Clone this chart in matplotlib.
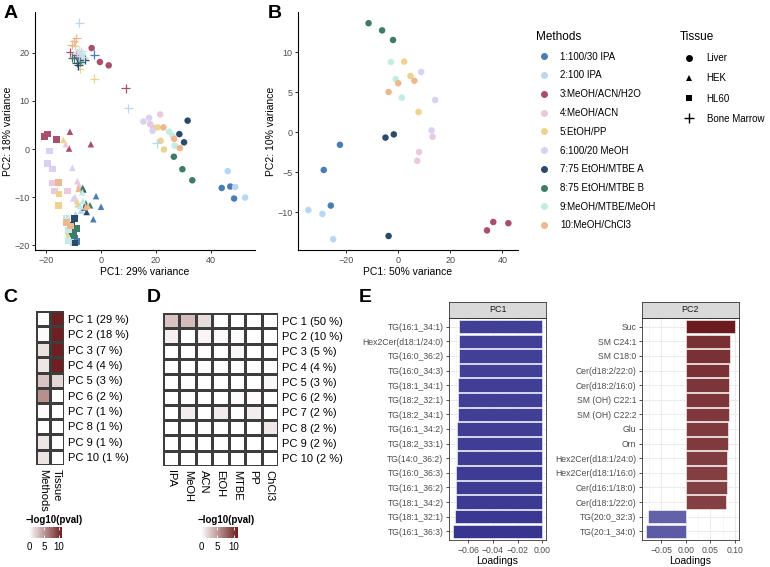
import numpy as np
import matplotlib
matplotlib.use("Agg")
import matplotlib.pyplot as plt
from matplotlib.colors import LinearSegmentedColormap, TwoSlopeNorm
from matplotlib.lines import Line2D

plt.rcParams['font.family'] = ['Liberation Sans', 'DejaVu Sans']

W, H = 770, 567

# ---- data ----
method_names = ["1:100/30 IPA", "2:100 IPA", "3:MeOH/ACN/H2O", "4:MeOH/ACN", "5:EtOH/PP",
                "6:100/20 MeOH", "7:75 EtOH/MTBE A", "8:75 EtOH/MTBE B", "9:MeOH/MTBE/MeOH",
                "10:MeOH/ChCl3"]
method_colors = ["#4a7db3", "#b9d7f2", "#a8506b", "#eac9df", "#edd38f",
                 "#d9d0f2", "#2a4a6b", "#3e7b6b", "#c2ece4", "#edb890"]
tissue_names = ["Liver", "HEK", "HL60", "Bone Marrow"]
tissue_markers = ["o", "^", "s", "+"]

# panel A, three replicates per method, methods in order 1..10
liver_x = [43.9, 47.0, 48.4, 46.1, 48.8, 52.4, -3.4, -0.4, 2.8, 21.5, 19.0, 17.9,
           20.6, 21.7, 22.9, 15.4, 17.5, 18.8, 31.5, 28.5, 30.2, 26.5, 29.6, 33.2,
           26.0, 26.8, 24.8, 22.7, 26.6, 28.7]
liver_y = [-8.1, -7.8, -10.3, -4.6, -7.9, -10.1, 21.0, 18.1, 17.4, 7.2, 4.4, 5.2,
           4.5, 1.7, -0.1, 5.7, 6.5, 3.8, 5.9, 3.1, 1.4, -1.6, -4.2, -6.5,
           2.8, 0.7, 3.6, 4.5, 2.1, 0.2]
hek_x = [-1.8, 0.0, -2.8, -8.5, -7.2, -9.2, -11.3, -11.6, -3.7, -12.8, -8.6, -8.0,
         -13.7, -8.8, -8.2, -10.4, -10.1, -9.5, -6.4, -5.2, -6.0, -6.7, -4.0, -5.5,
         -6.8, -6.6, -7.5, -5.6, -8.2, -4.8]
hek_y = [-9.8, -12.0, -14.6, -11.5, -12.8, -13.5, 3.6, 0.1, 1.0, 1.0, -6.7, -7.5,
         1.9, -10.8, -11.4, -3.9, -10.3, -10.0, -8.4, -13.1, -12.2, -8.1, -11.7, -11.3,
         -9.0, -10.8, -11.9, -12.1, -8.3, -11.8]
hl60_x = [-9.5, -8.8, -9.8, -12.0, -11.0, -10.2, -20.6, -19.5, -16.1, -17.7, -17.0, -12.1,
          -15.2, -15.5, -11.5, -18.8, -19.4, -17.6, -9.7, -10.7, -9.5, -10.0, -9.0, -10.5,
          -12.5, -11.8, -12.0, -15.5, -12.5, -11.0]
hl60_y = [-18.6, -19.2, -17.5, -17.0, -18.4, -19.5, 2.6, 3.1, 2.0, -7.1, -8.7, -8.7,
          -9.4, -11.7, -18.0, -0.4, -3.0, -4.2, -14.4, -15.8, -19.5, -18.0, -16.5, -17.2,
          -14.4, -16.8, -19.0, -7.0, -15.3, -16.0]
bm_x = [-2.5, -7.0, -8.5, -7.9, 9.9, 20.2, -11.3, 9.0, -9.0, -8.0, -7.2, -6.5,
        -7.6, -2.4, -9.5, -6.8, -8.6, -7.5, -8.3, -8.9, -6.0, -9.8, -10.5, -7.5,
        -7.0, -6.2, -8.0, -9.8, -10.7, -9.0]
bm_y = [19.6, 18.5, 19.2, 26.3, 8.5, 1.2, 20.1, 12.6, 19.5, 19.8, 20.3, 19.0,
        16.7, 14.6, 21.5, 18.6, 20.1, 19.3, 17.4, 17.9, 18.6, 18.9, 19.0, 18.2,
        19.9, 19.2, 20.6, 22.4, 21.7, 23.0]

# panel B, liver only
liverB_x = [-22.4, -28.6, -25.9, -34.5, -29.1, -25.0, 34.1, 36.5, 42.3, 13.2, 8.0, 7.3,
            2.3, 4.7, 7.8, 8.8, 14.2, 12.8, -4.9, -1.7, -3.7, -11.4, -6.2, -2.0,
            -2.8, -1.0, 1.4, -3.7, 0.0, 6.2]
liverB_y = [-1.6, -4.75, -9.2, -9.75, -10.25, -13.4, -12.3, -11.25, -11.4, -0.6, -2.5, -3.6,
            8.8, 7.0, 2.5, 7.5, 4.0, 0.2, -0.7, -0.3, -13.0, 13.6, 12.7, 11.5,
            8.75, 6.6, 4.3, 5.0, 6.1, 6.4]

# panel C / D, -log10(pval)
pcC_labels = ["PC 1 (29 %)", "PC 2 (18 %)", "PC 3 (7 %)", "PC 4 (4 %)", "PC 5 (3 %)",
              "PC 6 (2 %)", "PC 7 (1 %)", "PC 8 (1 %)", "PC 9 (1 %)", "PC 10 (1 %)"]
c_cols = ["Methods", "Tissue"]
c_methods = [0.1, 0.3, 1.5, 1.3, 3.0, 5.5, 0.2, 0.0, 1.3, 1.4]
c_tissue = [11.0, 11.0, 11.0, 11.0, 2.0, 0.0, 0.0, 0.0, 0.0, 0.0]

pcD_labels = ["PC 1 (50 %)", "PC 2 (10 %)", "PC 3 (5 %)", "PC 4 (4 %)", "PC 5 (3 %)",
              "PC 6 (2 %)", "PC 7 (2 %)", "PC 8 (2 %)", "PC 9 (2 %)", "PC 10 (2 %)"]
d_cols = ["IPA", "MeOH", "ACN", "EtOH", "MTBE", "PP", "ChCl3"]
d_vals = [[3.0, 3.3, 1.8, 0.0, 0.0, 0.0, 0.0],
          [0.8, 0.0, 0.5, 0.3, 0.2, 0.0, 0.0],
          [0.0, 0.0, 0.0, 0.0, 0.4, 0.0, 0.0],
          [0.0, 0.0, 0.0, 0.0, 0.0, 0.0, 0.0],
          [0.0, 0.0, 0.0, 0.0, 0.0, 0.0, 0.4],
          [0.0, 0.0, 0.0, 0.0, 0.3, 0.2, 0.0],
          [0.0, 0.9, 0.0, 1.0, 0.0, 0.9, 0.0],
          [0.0, 0.0, 0.0, 0.0, 0.0, 0.0, 1.2],
          [0.0, 0.0, 0.0, 0.0, 0.0, 0.0, 0.0],
          [0.0, 0.0, 0.0, 0.0, 0.0, 0.0, 0.0]]

# panel E loadings
pc1_feats = ["TG(16:1_34:1)", "Hex2Cer(d18:1/24:0)", "TG(16:0_36:2)", "TG(16:0_34:3)",
             "TG(18:1_34:1)", "TG(18:2_32:1)", "TG(18:2_34:1)", "TG(16:1_34:2)",
             "TG(18:2_33:1)", "TG(14:0_36:2)", "TG(16:0_36:3)", "TG(16:1_36:2)",
             "TG(18:1_34:2)", "TG(18:1_32:1)", "TG(16:1_36:3)"]
pc1_load = [-0.0677, -0.0677, -0.0676, -0.0675, -0.0680, -0.0683, -0.0684, -0.0688,
            -0.0689, -0.0693, -0.0694, -0.0695, -0.0699, -0.0703, -0.0718]
pc2_feats = ["Suc", "SM C24:1", "SM C18:0", "Cer(d18:2/22:0)", "Cer(d18:2/16:0)",
             "SM (OH) C22:1", "SM (OH) C22:2", "Glu", "Orn", "Hex2Cer(d18:1/24:0)",
             "Hex2Cer(d18:1/16:0)", "Cer(d16:1/18:0)", "Cer(d18:1/22:0)",
             "TG(20:0_32:3)", "TG(20:1_34:0)"]
pc2_load = [0.0993, 0.0893, 0.0890, 0.0887, 0.0873, 0.0873, 0.0867, 0.0853, 0.0853,
            0.0840, 0.0833, 0.0827, 0.0826, -0.0773, -0.0800]


def px_axes(fig, x0, y0, x1, y1):
    return fig.add_axes([x0 / W, 1 - y1 / H, (x1 - x0) / W, (y1 - y0) / H])


def classic(ax):
    for s in ["top", "right"]:
        ax.spines[s].set_visible(False)
    for s in ["left", "bottom"]:
        ax.spines[s].set_linewidth(0.8)
    ax.tick_params(length=2.5, width=0.6, labelsize=6.5, labelcolor="#4d4d4d", pad=1.5)


fig = plt.figure(figsize=(W / 100, H / 100), dpi=100)

# ---- A ----
axA = px_axes(fig, 35, 12, 255, 250)
rep = np.repeat(np.arange(10), 3)
for xs, ys, mk in [(liver_x, liver_y, "o"), (hek_x, hek_y, "^"),
                   (hl60_x, hl60_y, "s"), (bm_x, bm_y, "+")]:
    cols = [method_colors[i] for i in rep]
    if mk == "+":
        axA.scatter(xs, ys, c=cols, marker=mk, s=40, linewidths=0.9)
    else:
        axA.scatter(xs, ys, c=cols, marker=mk, s=22, linewidths=0)
axA.set_xlim(-24, 56)
axA.set_ylim(-21, 28.5)
axA.set_xticks([-20, 0, 20, 40])
axA.set_yticks([-20, -10, 0, 10, 20])
axA.set_xlabel("PC1: 29% variance", fontsize=7.5, labelpad=2)
axA.set_ylabel("PC2: 18% variance", fontsize=7.5, labelpad=1)
classic(axA)

# ---- B ----
axB = px_axes(fig, 298, 12, 518, 250)
axB.scatter(liverB_x, liverB_y, c=[method_colors[i] for i in rep], marker="o", s=22, linewidths=0)
axB.set_xlim(-38.5, 46)
axB.set_ylim(-14.75, 15)
axB.set_xticks([-20, 0, 20, 40])
axB.set_yticks([-10, -5, 0, 5, 10])
axB.set_xlabel("PC1: 50% variance", fontsize=7.5, labelpad=2)
axB.set_ylabel("PC2: 10% variance", fontsize=7.5, labelpad=1)
classic(axB)

# ---- legends ----
meth_h = [Line2D([], [], marker="o", ls="", color=c, markersize=4) for c in method_colors]
fig.legend(meth_h, method_names, title="Methods", loc="upper left",
           bbox_to_anchor=(536 / W, 1 - 31 / H), frameon=False, fontsize=7,
           title_fontsize=8.5, alignment="left", handlelength=1.6, handletextpad=0.85,
           labelspacing=0.9, borderpad=0, borderaxespad=0)
tis_h = [Line2D([], [], marker=m, ls="", color="black", markersize=5 if m != "+" else 7,
                markeredgewidth=1 if m == "+" else 0) for m in tissue_markers]
fig.legend(tis_h, tissue_names, title="Tissue", loc="upper left",
           bbox_to_anchor=(680 / W, 1 - 31 / H), frameon=False, fontsize=7,
           title_fontsize=8.5, alignment="left", handlelength=1.85, handletextpad=0.9,
           labelspacing=1.05, borderpad=0, borderaxespad=0)

# ---- heatmaps ----
heat_cmap = LinearSegmentedColormap.from_list("heat", ["white", "#6e1f1f"])
HMAX = 11


def heatmap(x0, y0, x1, y1, vals, rows, cols, fs):
    ax = px_axes(fig, x0, y0, x1, y1)
    vals = np.asarray(vals)
    ax.pcolormesh(vals, cmap=heat_cmap, vmin=0, vmax=HMAX, edgecolors="#3d3d3d", linewidth=0.8)
    ax.set_xlim(0, vals.shape[1])
    ax.set_ylim(vals.shape[0], 0)
    ax.yaxis.tick_right()
    ax.set_yticks(np.arange(len(rows)) + 0.5)
    ax.set_yticklabels(rows, fontsize=fs)
    ax.set_xticks(np.arange(len(cols)) + 0.5)
    ax.set_xticklabels(cols, fontsize=fs, rotation=270, va="top", ha="center")
    ax.tick_params(length=0, pad=3)
    for s in ax.spines.values():
        s.set_visible(False)
    return ax


def colorbar(x0, x1, y0, y1):
    cax = px_axes(fig, x0, y0, x1, y1)
    grad = np.linspace(0, HMAX, 256)[None, :]
    cax.imshow(grad, aspect="auto", cmap=heat_cmap, vmin=0, vmax=HMAX, extent=[0, HMAX, 0, 1])
    cax.set_xlim(0, HMAX)
    cax.set_xticks([0, 5, 10])
    cax.set_yticks([])
    for s in cax.spines.values():
        s.set_visible(False)
    cax.tick_params(axis="x", length=2.5, width=0.6, color="white", direction="in",
                    top=True, labelsize=7, pad=3)
    fig.text((x0 - 3) / W, 1 - 520 / H, "\u2212log10(pval)", fontsize=7, weight="bold",
             va="center", ha="left")


heatmap(36, 311, 64, 465, np.column_stack([c_methods, c_tissue]), pcC_labels, c_cols, 8)
colorbar(29, 62, 527, 538)
heatmap(163, 313, 278, 466, d_vals, pcD_labels, d_cols, 8)
colorbar(201, 237, 527, 538)

# ---- E ----
load_cmap = LinearSegmentedColormap.from_list("load", ["#373590", "white", "#6b1a1e"])


def loading_panel(x0, x1, feats, loads, title, xlim, xticks, minor):
    ax = px_axes(fig, x0, 318, x1, 540)
    lim = max(abs(v) for v in loads)
    norm = TwoSlopeNorm(vcenter=0, vmin=-lim, vmax=lim)
    ypos = np.arange(len(feats))
    ax.barh(ypos, loads, height=0.92, color=load_cmap(norm(np.array(loads))),
            edgecolor="white", linewidth=0.4, zorder=3)
    ax.set_ylim(len(feats) - 0.4, -0.6)
    ax.set_xlim(*xlim)
    ax.set_yticks(ypos)
    ax.set_yticklabels(feats, fontsize=6.2, color="#4d4d4d")
    ax.set_xticks(xticks)
    ax.set_xticks(minor, minor=True)
    ax.grid(which="major", color="#ebebeb", linewidth=0.7, zorder=0)
    ax.grid(which="minor", axis="x", color="#f2f2f2", linewidth=0.4, zorder=0)
    ax.set_axisbelow(True)
    ax.tick_params(which="major", length=2.5, width=0.6, labelsize=6.2, labelcolor="#4d4d4d",
                   color="#333333", pad=1.5)
    ax.tick_params(which="minor", length=0)
    for s in ax.spines.values():
        s.set_color("#333333")
        s.set_linewidth(0.6)
    ax.set_xlabel("Loadings", fontsize=7.5, labelpad=1)
    sax = px_axes(fig, x0, 302, x1, 318)
    sax.set_facecolor("#d9d9d9")
    sax.set_xticks([])
    sax.set_yticks([])
    for s in sax.spines.values():
        s.set_color("#333333")
        s.set_linewidth(0.6)
    sax.text(0.5, 0.5, title, transform=sax.transAxes, ha="center", va="center",
             fontsize=6.5, color="#1a1a1a")
    return ax


loading_panel(449, 546, pc1_feats, pc1_load, "PC1", (-0.0754, 0.003),
              [-0.06, -0.04, -0.02, 0.0], [-0.07, -0.05, -0.03, -0.01])
loading_panel(642, 739, pc2_feats, pc2_load, "PC2", (-0.089, 0.108),
              [-0.05, 0.0, 0.05, 0.10], [-0.075, -0.025, 0.025, 0.075])

# ---- panel letters ----
for lbl, x, y in [("A", 4, 14), ("B", 268, 14), ("C", 3, 297), ("D", 147, 297), ("E", 359, 297)]:
    fig.text(x / W, 1 - y / H, lbl, fontsize=14, weight="bold", va="center", ha="left")

fig.savefig("out.png", dpi=100)
